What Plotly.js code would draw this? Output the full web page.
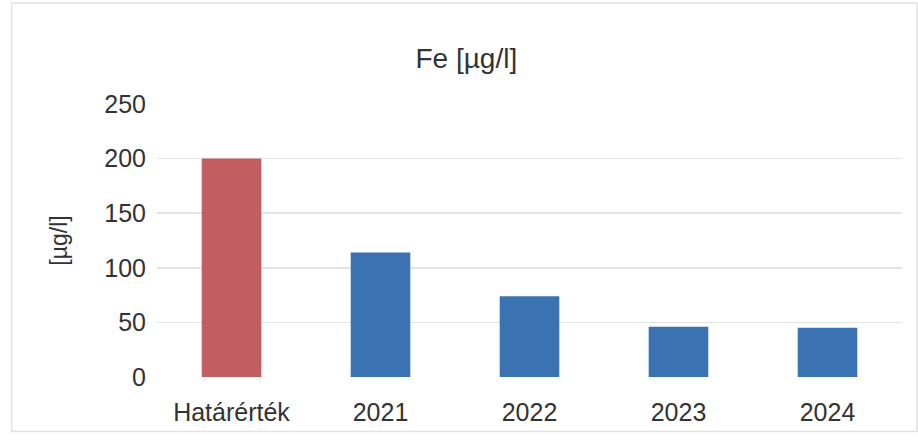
<!DOCTYPE html>
<html>
<head>
<meta charset="utf-8">
<script src="https://cdn.plot.ly/plotly-3.0.1.min.js"></script>
<style>
html,body{margin:0;padding:0;background:#fff;}
#chart{width:918px;height:447px;}
</style>
</head>
<body>
<div id="chart"></div>
<script>
const categories = ["Határérték", "2021", "2022", "2023", "2024"];
const values = [200, 114, 74, 46, 45];
const limitLabel = "Határérték";

const barColors = categories.map(c => c === limitLabel ? "#C25D61" : "#3B73B2");
const font = "Liberation Sans, Arial, sans-serif";

const trace = {
  type: "bar",
  x: categories,
  y: values,
  marker: {color: barColors, line: {width: 0}},
  hoverinfo: "x+y"
};

const layout = {
  width: 918,
  height: 447,
  margin: {l: 157, r: 16, t: 104, b: 70},
  paper_bgcolor: "#ffffff",
  plot_bgcolor: "#ffffff",
  bargap: 0.6,
  showlegend: false,
  title: {
    text: "Fe [µg/l]",
    font: {family: font, size: 28, color: "#333333"},
    xref: "container", x: 0.508, xanchor: "center",
    yref: "container", y: 0.87, yanchor: "middle"
  },
  xaxis: {
    type: "category",
    showgrid: false,
    zeroline: false,
    showline: false,
    ticks: "",
    tickfont: {family: font, size: 25, color: "#333333"},
    ticklabelstandoff: 18
  },
  yaxis: {
    range: [0, 250],
    dtick: 50,
    tick0: 0,
    showgrid: true,
    gridcolor: "#e4e4e4",
    gridwidth: 1.5,
    zeroline: false,
    showline: false,
    ticks: "",
    tickfont: {family: font, size: 25, color: "#333333"},
    ticklabelstandoff: 10,
    title: {
      text: "[µg/l]",
      font: {family: font, size: 23, color: "#333333"},
      standoff: 30
    }
  },
  shapes: [{
    type: "rect", xref: "paper", yref: "paper",
    x0: -0.195, x1: 1.02, y0: -0.2, y1: 1.37,
    line: {color: "#e2e2e2", width: 1.5},
    fillcolor: "rgba(0,0,0,0)"
  }]
};

Plotly.newPlot("chart", [trace], layout, {displayModeBar: false, staticPlot: true});
</script>
</body>
</html>
